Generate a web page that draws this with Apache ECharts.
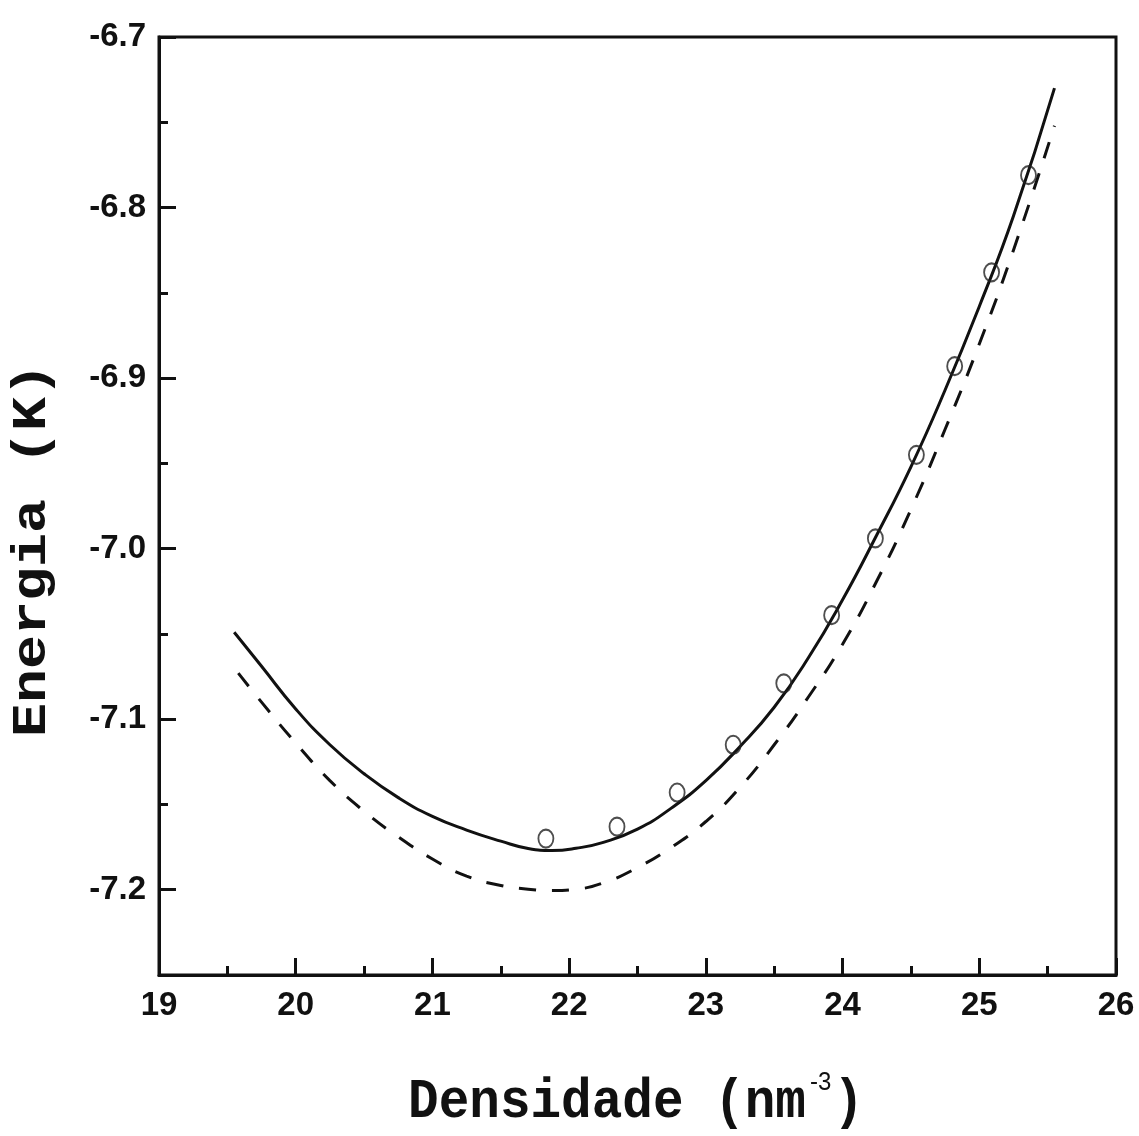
<!DOCTYPE html>
<html>
<head>
<meta charset="utf-8">
<script src="https://cdn.jsdelivr.net/npm/echarts@6/dist/echarts.min.js"></script>
<style>
  html, body { margin: 0; padding: 0; background: #fff; }
  #chart { width: 1139px; height: 1136px; }
</style>
</head>
<body>
<div id="chart"></div>
<script>
// data
var solidDensity = [19.55, 19.75, 20.00, 20.25, 20.50, 20.75, 21.00, 21.25, 21.50, 21.70, 21.875, 22.05, 22.25, 22.50, 22.75, 23.00, 23.25, 23.50, 23.75, 24.00, 24.25, 24.50, 24.75, 25.00, 25.25, 25.55];
var solidEnergy = [-7.049, -7.069, -7.094, -7.115, -7.132, -7.146, -7.157, -7.165, -7.1715, -7.1758, -7.177, -7.1757, -7.1722, -7.1645, -7.152, -7.136, -7.116, -7.093, -7.064, -7.030, -6.992, -6.952, -6.907, -6.858, -6.805, -6.730];

var dashDensity = [19.58, 19.75, 20.00, 20.25, 20.50, 20.75, 21.00, 21.25, 21.50, 21.70, 21.875, 22.05, 22.25, 22.50, 22.75, 23.00, 23.25, 23.50, 23.75, 24.00, 24.25, 24.50, 24.75, 25.00, 25.25, 25.55];
var dashEnergy = [-7.073, -7.090, -7.114, -7.136, -7.154, -7.169, -7.182, -7.192, -7.1975, -7.1997, -7.2005, -7.1997, -7.196, -7.187, -7.175, -7.160, -7.140, -7.115, -7.087, -7.056, -7.019, -6.977, -6.930, -6.880, -6.825, -6.752];

var pointDensity = [21.83, 22.35, 22.79, 23.20, 23.57, 23.92, 24.24, 24.54, 24.82, 25.09, 25.36];
var pointEnergy = [-7.170, -7.163, -7.143, -7.115, -7.079, -7.039, -6.994, -6.945, -6.893, -6.838, -6.781];

function pairs(xs, ys) {
  return xs.map(function (x, i) { return [x, ys[i]]; });
}

var myChart = echarts.init(document.getElementById('chart'));

var tickFont = {
  color: '#111',
  fontFamily: '"Liberation Sans", Arial, sans-serif',
  fontWeight: 'bold',
  fontSize: 33
};

option = {
  backgroundColor: '#fff',
  animation: false,
  grid: {
    left: 159,
    right: 23,
    top: 37,
    bottom: 161,
    show: true,
    borderColor: '#111',
    borderWidth: 3
  },
  xAxis: [{
    type: 'value',
    min: 19,
    max: 26,
    interval: 1,
    axisLine: { show: true, lineStyle: { color: '#111', width: 3 } },
    axisTick: { show: true, inside: true, length: 17, lineStyle: { color: '#111', width: 3 } },
    minorTick: { show: true, splitNumber: 2, length: 9, lineStyle: { color: '#111', width: 3 } },
    splitLine: { show: false },
    axisLabel: Object.assign({ margin: 14 }, tickFont)
  }],
  yAxis: [{
    type: 'value',
    min: -7.25,
    max: -6.7,
    splitNumber: 5,
    axisLine: { show: true, lineStyle: { color: '#111', width: 3 } },
    axisTick: { show: true, inside: true, length: 17, lineStyle: { color: '#111', width: 3 } },
    splitLine: { show: false },
    axisLabel: Object.assign({
      margin: 13,
      showMinLabel: false,
      formatter: function (v) { return v.toFixed(1); }
    }, tickFont)
  }, {
    // minor ticks every 0.05
    type: 'value',
    position: 'left',
    min: -7.25,
    max: -6.7,
    interval: 0.05,
    axisLine: { show: false },
    axisTick: { show: true, inside: true, length: 9, lineStyle: { color: '#111', width: 3 } },
    splitLine: { show: false },
    axisLabel: { show: false }
  }],
  graphic: [{
    type: 'text',
    x: 33,
    y: 550,
    rotation: Math.PI / 2,
    scaleX: 1.18,
    style: {
      text: 'Energia (K)',
      font: 'bold 48px "Liberation Mono", "DejaVu Sans Mono", monospace',
      textAlign: 'center',
      textVerticalAlign: 'middle',
      fill: '#111'
    }
  }, {
    type: 'text',
    x: 636,
    y: 1103,
    scaleY: 1.1,
    style: {
      text: '{a|Densidade (nm}{s|-3}{a|)}',
      textAlign: 'center',
      textVerticalAlign: 'middle',
      fill: '#111',
      rich: {
        a: {
          fontFamily: '"Liberation Mono", "DejaVu Sans Mono", monospace',
          fontWeight: 'bold',
          fontSize: 51,
          fill: '#111'
        },
        s: {
          fontFamily: '"Liberation Sans", Arial, sans-serif',
          fontSize: 24,
          fill: '#111',
          padding: [0, 2, 36, 4]
        }
      }
    }
  }],
  series: [{
    name: 'dashed',
    type: 'line',
    smooth: 0.5,
    showSymbol: false,
    lineStyle: { color: '#111', width: 3, type: [17, 16] },
    data: pairs(dashDensity, dashEnergy)
  }, {
    name: 'solid',
    type: 'line',
    smooth: 0.5,
    showSymbol: false,
    lineStyle: { color: '#111', width: 3 },
    data: pairs(solidDensity, solidEnergy)
  }, {
    name: 'points',
    type: 'scatter',
    symbol: 'circle',
    symbolSize: [15, 18],
    itemStyle: { color: 'rgba(0,0,0,0)', borderColor: '#222', borderWidth: 2 },
    data: pairs(pointDensity, pointEnergy),
    z: 5
  }]
};

myChart.setOption(option);
window.addEventListener('resize', function () {
  myChart.resize();
});
</script>
</body>
</html>
